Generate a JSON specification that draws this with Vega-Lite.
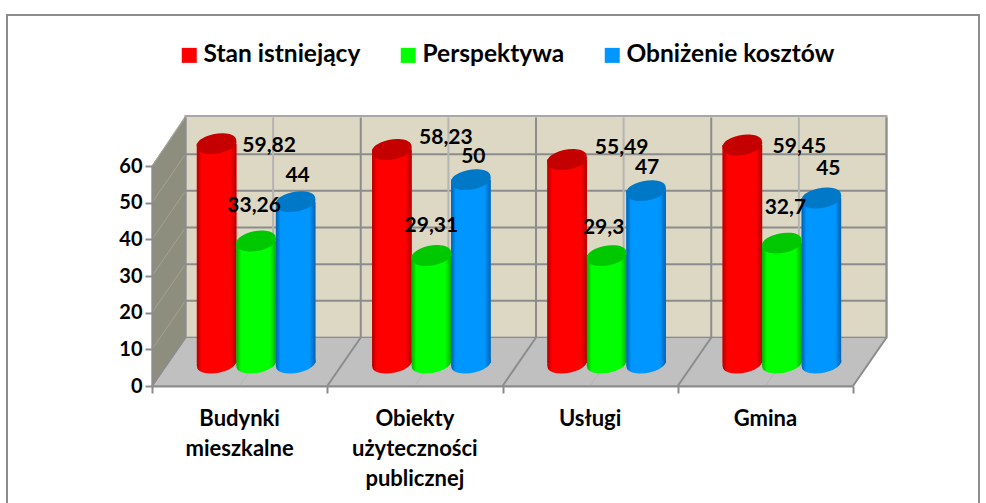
{
"$schema":"https://vega.github.io/schema/vega-lite/v6.json",
"width":701,"height":220,
"autosize":{"type":"none"},
"padding":{"left":152,"top":166,"right":133,"bottom":117},
"background":"white",
"config":{"font":"Lato","view":{"stroke":null},"axis":{"labelOverlap":false},"axisY":{"tickCount":7,"labelOverlap":false}},
"datasets":{
"values":[
{"kategoria":"Budynki mieszkalne","seria":"Stan istniejący","wartosc":59.82,"etykieta":"59,82"},
{"kategoria":"Budynki mieszkalne","seria":"Perspektywa","wartosc":33.26,"etykieta":"33,26"},
{"kategoria":"Budynki mieszkalne","seria":"Obniżenie kosztów","wartosc":44,"etykieta":"44"},
{"kategoria":"Obiekty użyteczności publicznej","seria":"Stan istniejący","wartosc":58.23,"etykieta":"58,23"},
{"kategoria":"Obiekty użyteczności publicznej","seria":"Perspektywa","wartosc":29.31,"etykieta":"29,31"},
{"kategoria":"Obiekty użyteczności publicznej","seria":"Obniżenie kosztów","wartosc":50,"etykieta":"50"},
{"kategoria":"Usługi","seria":"Stan istniejący","wartosc":55.49,"etykieta":"55,49"},
{"kategoria":"Usługi","seria":"Perspektywa","wartosc":29.3,"etykieta":"29,3"},
{"kategoria":"Usługi","seria":"Obniżenie kosztów","wartosc":47,"etykieta":"47"},
{"kategoria":"Gmina","seria":"Stan istniejący","wartosc":59.45,"etykieta":"59,45"},
{"kategoria":"Gmina","seria":"Perspektywa","wartosc":32.7,"etykieta":"32,7"},
{"kategoria":"Gmina","seria":"Obniżenie kosztów","wartosc":45,"etykieta":"45"}
],
"ticks":[{"v":0},{"v":10},{"v":20},{"v":30},{"v":40},{"v":50},{"v":60}],
"wallticks":[{"v":10},{"v":20},{"v":30},{"v":40},{"v":50}],
"majors":[{"k":0},{"k":1},{"k":2},{"k":3},{"k":4}],
"minors":[{"k":0.5},{"k":1.5},{"k":2.5},{"k":3.5}],
"frame":[{"k":0}]
},
"resolve":{"scale":{"x":"independent"}},
"layer":[
{"layer":[
{"data":{"name":"frame"},"mark":{"type":"rect","fill":"white","stroke":"#8c8c8c","strokeWidth":2},
 "encoding":{
  "x":{"datum":-0.8274,"type":"quantitative","scale":{"domain":[0,4],"nice":false,"zero":false},
   "axis":{"orient":"bottom","values":[0,1,2,3,4],"labels":false,"title":null,"grid":false,"domainColor":"#8c8c8c","domainWidth":2,"tickColor":"#8c8c8c","tickWidth":2,"tickSize":7,"zindex":1}},
  "x2":{"datum":4.719},
  "y":{"datum":101.2,"type":"quantitative","scale":{"domain":[0,60],"nice":false,"zero":false},
   "axis":{"values":[0,10,20,30,40,50,60],"tickCount":7,"title":null,"grid":false,"domainColor":"#8c8c8c","domainWidth":2,"tickColor":"#8c8c8c","tickWidth":2,"tickSize":7,"labelFont":"Lato","labelFontWeight":"bold","labelFontSize":20,"labelColor":"#000000","labelPadding":3,"labelOverlap":false,"zindex":1}},
  "y2":{"datum":-40}
 }},
{"data":{"name":"frame"},"mark":{"type":"rect","fill":"#ddd8c3","stroke":"#a8a8a8","strokeWidth":2,"xOffset":33.5,"x2Offset":33.5,"yOffset":-48.5,"y2Offset":-50},
 "encoding":{"x":{"datum":0,"type":"quantitative"},"x2":{"datum":4},"y":{"datum":0,"type":"quantitative"},"y2":{"datum":60}}},
{"data":{"name":"frame"},"mark":{"type":"point","filled":true,"opacity":1,"size":4,"shape":"M0,0 L33.5,-48.5 L33.5,-270 L0,-220 Z","fill":"#8e8e7e","stroke":"#a8a8a8","strokeWidth":1},
 "encoding":{"x":{"datum":0,"type":"quantitative"},"y":{"datum":0,"type":"quantitative"}}},
{"data":{"name":"frame"},"mark":{"type":"point","filled":true,"opacity":1,"size":4,"shape":"M0,0 L701,0 L734.5,-48.5 L33.5,-48.5 Z","fill":"#c0c0c0","stroke":"#8c8c8c","strokeWidth":1},
 "encoding":{"x":{"datum":0,"type":"quantitative"},"y":{"datum":0,"type":"quantitative"}}},
{"data":{"name":"wallticks"},"mark":{"type":"rule","color":"#8c8c8c","strokeWidth":2,"xOffset":33.5,"x2Offset":33.5,"yOffset":-48.5,"y2Offset":-48.5},
 "encoding":{"x":{"datum":0,"type":"quantitative"},"x2":{"datum":4},"y":{"field":"v","type":"quantitative"},"y2":{"field":"v"}}},
{"data":{"name":"ticks"},"mark":{"type":"rule","color":"#a3a394","strokeWidth":1,"x2Offset":33.5,"y2Offset":-48.5},
 "encoding":{"x":{"datum":0,"type":"quantitative"},"x2":{"datum":0},"y":{"field":"v","type":"quantitative"},"y2":{"field":"v"}}},
{"data":{"name":"minors"},"mark":{"type":"rule","color":"#b4b4b4","strokeWidth":2,"xOffset":33.5,"x2Offset":33.5,"yOffset":-48.5,"y2Offset":-48.5},
 "encoding":{"x":{"field":"k","type":"quantitative"},"x2":{"field":"k"},"y":{"datum":0,"type":"quantitative"},"y2":{"datum":60}}},
{"data":{"name":"majors"},"mark":{"type":"rule","color":"#8c8c8c","strokeWidth":2,"xOffset":33.5,"x2Offset":33.5,"yOffset":-48.5,"y2Offset":-48.5},
 "encoding":{"x":{"field":"k","type":"quantitative"},"x2":{"field":"k"},"y":{"datum":0,"type":"quantitative"},"y2":{"datum":60}}},
{"data":{"name":"minors"},"mark":{"type":"rule","color":"#b4b4b4","strokeWidth":1,"x2Offset":33.5,"y2Offset":-48.5},
 "encoding":{"x":{"field":"k","type":"quantitative"},"x2":{"field":"k"},"y":{"datum":0,"type":"quantitative"},"y2":{"datum":0}}},
{"data":{"name":"majors"},"mark":{"type":"rule","color":"#8c8c8c","strokeWidth":2,"x2Offset":33.5,"y2Offset":-48.5},
 "encoding":{"x":{"field":"k","type":"quantitative"},"x2":{"field":"k"},"y":{"datum":0,"type":"quantitative"},"y2":{"datum":0}}}
]},
{"data":{"name":"values"},
 "encoding":{
  "x":{"field":"kategoria","type":"nominal","sort":["Budynki mieszkalne","Obiekty użyteczności publicznej","Usługi","Gmina"],
   "scale":{"paddingInner":0,"paddingOuter":0,"range":[16.5,717.5]},
   "axis":{"orient":"bottom","title":null,"ticks":false,"domain":false,"zindex":1,"labelAngle":0,"labelOffset":-16.5,"labelExpr":"split(datum.label,' ')","labelFont":"Lato","labelFontWeight":"bold","labelFontSize":22,"labelColor":"#000000","labelPadding":22,"labelLineHeight":30,"labelLimit":0,"labelOverlap":false,"labelBound":false,"labelFlush":false}},
  "xOffset":{"field":"seria","type":"nominal","sort":["Stan istniejący","Perspektywa","Obniżenie kosztów"],"scale":{"paddingInner":0,"paddingOuter":0.718}}
 },
 "layer":[
 {"mark":{"type":"bar","yOffset":-23,"y2Offset":-23},
  "encoding":{
   "y":{"field":"wartosc","type":"quantitative","stack":null},
   "y2":{"datum":0},
   "color":{"field":"seria","type":"nominal","sort":["Stan istniejący","Perspektywa","Obniżenie kosztów"],
    "scale":{"domain":["Stan istniejący","Perspektywa","Obniżenie kosztów"],"range":["#ff0000","#00ff00","#0096ff"]},
    "legend":{"orient":"none","legendX":25,"legendY":-123,"direction":"horizontal","columns":3,"title":null,"symbolType":"square","symbolSize":225,"symbolStrokeWidth":0,"labelFont":"Lato","labelFontWeight":"bold","labelFontSize":24.5,"labelColor":"#000000","labelLimit":0,"labelOffset":2,"columnPadding":35}}
  }},
 {"transform":[{"filter":"datum.seria=='Stan istniejący'"}],
  "mark":{"type":"point","filled":true,"opacity":1,"size":1600,"yOffset":-23,"shape":"M-0.98,0.17 A1,0.45 -10 1 1 0.98,-0.17 A1,0.45 -10 1 1 -0.98,0.17 Z",
   "fill":{"gradient":"linear","x1":0,"y1":0,"x2":1,"y2":0,"stops":[{"offset":0,"color":"#b00000"},{"offset":0.12,"color":"#ff0000"},{"offset":0.85,"color":"#ff0000"},{"offset":1,"color":"#b00000"}]}},
  "encoding":{"y":{"datum":0,"type":"quantitative"}}},
 {"transform":[{"filter":"datum.seria=='Stan istniejący'"}],
  "mark":{"type":"bar","yOffset":-23,"y2Offset":-23,
   "fill":{"gradient":"linear","x1":0,"y1":0,"x2":1,"y2":0,"stops":[{"offset":0,"color":"#b00000"},{"offset":0.12,"color":"#ff0000"},{"offset":0.85,"color":"#ff0000"},{"offset":1,"color":"#b00000"}]}},
  "encoding":{"y":{"field":"wartosc","type":"quantitative","stack":null},"y2":{"datum":0}}},
 {"transform":[{"filter":"datum.seria=='Perspektywa'"}],
  "mark":{"type":"point","filled":true,"opacity":1,"size":1600,"yOffset":-23,"shape":"M-0.98,0.17 A1,0.45 -10 1 1 0.98,-0.17 A1,0.45 -10 1 1 -0.98,0.17 Z",
   "fill":{"gradient":"linear","x1":0,"y1":0,"x2":1,"y2":0,"stops":[{"offset":0,"color":"#00b000"},{"offset":0.12,"color":"#00ff00"},{"offset":0.85,"color":"#00ff00"},{"offset":1,"color":"#00b000"}]}},
  "encoding":{"y":{"datum":0,"type":"quantitative"}}},
 {"transform":[{"filter":"datum.seria=='Perspektywa'"}],
  "mark":{"type":"bar","yOffset":-23,"y2Offset":-23,
   "fill":{"gradient":"linear","x1":0,"y1":0,"x2":1,"y2":0,"stops":[{"offset":0,"color":"#00b000"},{"offset":0.12,"color":"#00ff00"},{"offset":0.85,"color":"#00ff00"},{"offset":1,"color":"#00b000"}]}},
  "encoding":{"y":{"field":"wartosc","type":"quantitative","stack":null},"y2":{"datum":0}}},
 {"transform":[{"filter":"datum.seria=='Obniżenie kosztów'"}],
  "mark":{"type":"point","filled":true,"opacity":1,"size":1600,"yOffset":-23,"shape":"M-0.98,0.17 A1,0.45 -10 1 1 0.98,-0.17 A1,0.45 -10 1 1 -0.98,0.17 Z",
   "fill":{"gradient":"linear","x1":0,"y1":0,"x2":1,"y2":0,"stops":[{"offset":0,"color":"#0060b0"},{"offset":0.12,"color":"#0096ff"},{"offset":0.85,"color":"#0096ff"},{"offset":1,"color":"#0060b0"}]}},
  "encoding":{"y":{"datum":0,"type":"quantitative"}}},
 {"transform":[{"filter":"datum.seria=='Obniżenie kosztów'"}],
  "mark":{"type":"bar","yOffset":-23,"y2Offset":-23,
   "fill":{"gradient":"linear","x1":0,"y1":0,"x2":1,"y2":0,"stops":[{"offset":0,"color":"#0060b0"},{"offset":0.12,"color":"#0096ff"},{"offset":0.85,"color":"#0096ff"},{"offset":1,"color":"#0060b0"}]}},
  "encoding":{"y":{"field":"wartosc","type":"quantitative","stack":null},"y2":{"datum":0}}},
 {"mark":{"type":"point","filled":true,"opacity":1,"size":1600,"yOffset":-23,"shape":"M-0.98,0.17 A1,0.45 -10 1 1 0.98,-0.17 A1,0.45 -10 1 1 -0.98,0.17 Z"},
  "encoding":{
   "y":{"field":"wartosc","type":"quantitative"},
   "fill":{"field":"seria","type":"nominal","legend":null,
    "scale":{"domain":["Stan istniejący","Perspektywa","Obniżenie kosztów"],"range":["#c40000","#00c800","#0078c8"]}}
  }},
 {"mark":{"type":"text","fontWeight":"bold","fontSize":21,"color":"#000000","baseline":"middle","align":"center","yOffset":-23,
   "dx":{"expr":"{'Stan istniejący':{'B':52.5,'O':54,'U':54.5,'G':57},'Perspektywa':{'B':-2,'O':0,'U':-3,'G':3.5},'Obniżenie kosztów':{'B':2,'O':2.5,'U':1,'G':7}}[datum.seria][slice(datum.kategoria,0,1)]"},
   "dy":{"expr":"{'Stan istniejący':{'B':2,'O':-11,'U':-12,'G':2},'Perspektywa':{'B':-35,'O':-30,'U':-28,'G':-35},'Obniżenie kosztów':{'B':-26,'O':-23,'U':-23,'G':-29}}[datum.seria][slice(datum.kategoria,0,1)]"}},
  "encoding":{
   "y":{"field":"wartosc","type":"quantitative"},
   "text":{"field":"etykieta","type":"nominal"}
  }}
 ]}
]
}
